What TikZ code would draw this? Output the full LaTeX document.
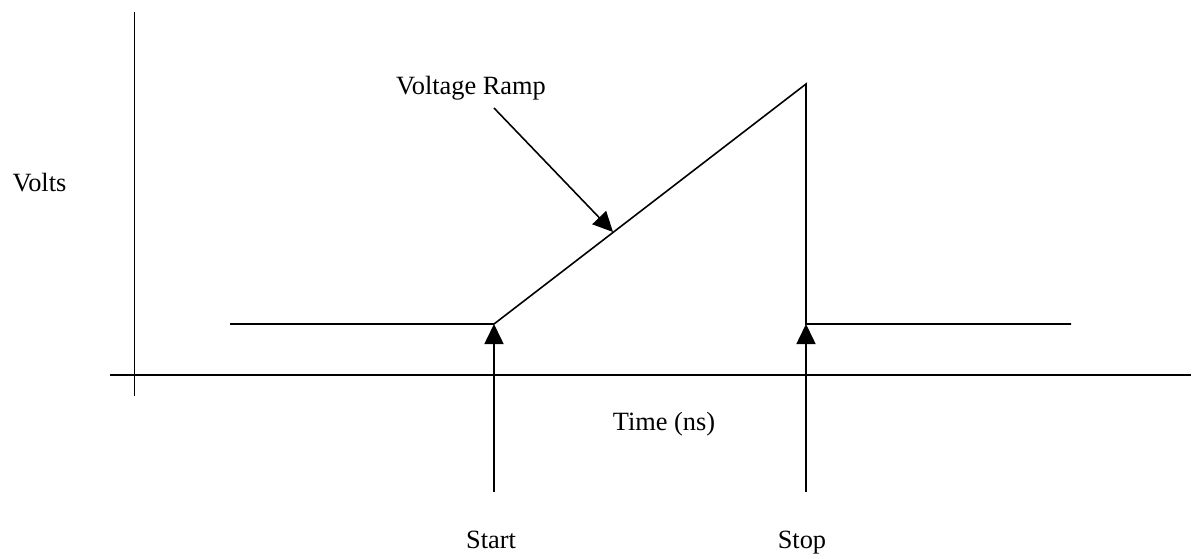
\documentclass[tikz,border=0pt]{standalone}
\usepackage{fontspec}
\setmainfont{Liberation Serif}
\usepackage{tikz}
\usetikzlibrary{arrows.meta,calc}

\begin{document}
\begin{tikzpicture}[>={Triangle[length=0.4cm,width=0.38cm]},line width=0.9pt,
  lbl/.style={anchor=base,font=\fontsize{15}{18}\selectfont}]
  \useasboundingbox (0,0) rectangle (23.86,11.16);
  % Axes
  \coordinate (ytop) at (2.69,10.92);
  \coordinate (ybot) at (2.69,3.24);
  \coordinate (xl) at (2.2,3.66);
  \coordinate (xr) at (23.82,3.66);
  \draw (ytop) -- (ybot);
  \draw (xl) -- (xr);
  % Signal
  \coordinate (lo) at (4.6,4.68);
  \coordinate (start) at (9.88,4.68);
  \coordinate (peak) at (16.12,9.48);
  \coordinate (stop) at (16.12,4.68);
  \coordinate (hi) at (21.42,4.68);
  \draw (lo) -- (start) -- (peak) -- (stop) -- (hi);
  % Labels
  \node[lbl] (volts) at (0.79,7.34) {Volts};
  \node[lbl] (time) at (13.28,2.56) {Time (ns)};
  \node[lbl] (ramp) at (9.42,9.28) {Voltage Ramp};
  \node[lbl] (startlbl) at (9.82,0.2) {Start};
  \node[lbl] (stoplbl) at (16.04,0.2) {Stop};
  % Pointers
  \coordinate (rampa) at (9.88,9.0);
  \coordinate (rampb) at (12.26,6.52);
  \draw[->] (rampa) -- (rampb);
  \foreach \p in {start,stop} {
    \coordinate (\p foot) at ($(\p)+(0,-3.36)$);
    \draw[->] (\p foot) -- (\p);}
\end{tikzpicture}
\end{document}
